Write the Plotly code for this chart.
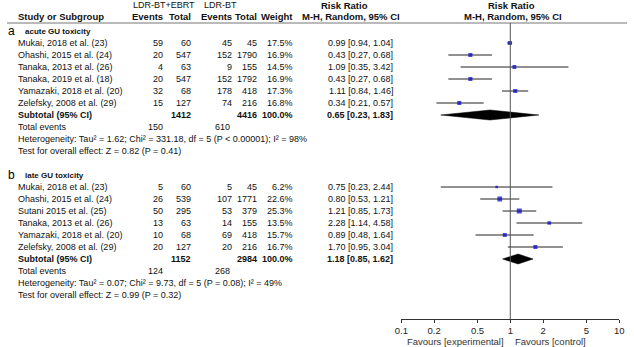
import math
import plotly.graph_objects as go

W, H = 634, 347

# ---------------- data ----------------
acute_studies = ["Mukai, 2018 et al. (23)", "Ohashi, 2015 et al. (24)", "Tanaka, 2013 et al. (26)",
                 "Tanaka, 2019 et al. (18)", "Yamazaki, 2018 et al. (20)", "Zelefsky, 2008 et al. (29)"]
acute_e1 = [59, 20, 4, 20, 32, 15]
acute_n1 = [60, 547, 63, 547, 68, 127]
acute_e2 = [45, 152, 9, 152, 178, 74]
acute_n2 = [45, 1790, 155, 1792, 418, 216]
acute_w = [17.5, 16.9, 14.5, 16.9, 17.3, 16.8]
acute_rr = [0.99, 0.43, 1.09, 0.43, 1.11, 0.34]
acute_lo = [0.94, 0.27, 0.35, 0.27, 0.84, 0.21]
acute_hi = [1.04, 0.68, 3.42, 0.68, 1.46, 0.57]
acute_pooled = [0.65, 0.23, 1.83]
acute_wtotal = 100.0
acute_het = "Heterogeneity: Tau² = 1.62; Chi² = 331.18, df = 5 (P < 0.00001); I² = 98%"
acute_test = "Test for overall effect: Z = 0.82 (P = 0.41)"

late_studies = ["Mukai, 2018 et al. (23)", "Ohashi, 2015 et al. (24)", "Sutani 2015 et al. (25)",
                "Tanaka, 2013 et al. (26)", "Yamazaki, 2018 et al. (20)", "Zelefsky, 2008 et al. (29)"]
late_e1 = [5, 26, 50, 13, 10, 20]
late_n1 = [60, 539, 295, 63, 68, 127]
late_e2 = [5, 107, 53, 14, 69, 20]
late_n2 = [45, 1771, 379, 155, 418, 216]
late_w = [6.2, 22.6, 25.3, 13.5, 15.7, 16.7]
late_rr = [0.75, 0.80, 1.21, 2.28, 0.89, 1.70]
late_lo = [0.23, 0.53, 0.85, 1.14, 0.48, 0.95]
late_hi = [2.44, 1.21, 1.73, 4.58, 1.64, 3.04]
late_pooled = [1.18, 0.85, 1.62]
late_wtotal = 100.0
late_het = "Heterogeneity: Tau² = 0.07; Chi² = 9.73, df = 5 (P = 0.08); I² = 49%"
late_test = "Test for overall effect: Z = 0.99 (P = 0.32)"

group_letters = ["a", "b"]
group_titles = ["acute GU toxicity", "late GU toxicity"]

tick_vals = [0.1, 0.2, 0.5, 1, 2, 5, 10]
tick_text = ["0.1", "0.2", "0.5", "1", "2", "5", "10"]
favours_left = "Favours [experimental]"
favours_right = "Favours [control]"

groups = [
    dict(studies=acute_studies, e1=acute_e1, n1=acute_n1, e2=acute_e2, n2=acute_n2, w=acute_w,
         rr=acute_rr, lo=acute_lo, hi=acute_hi, pooled=acute_pooled, wt=acute_wtotal,
         het=acute_het, test=acute_test),
    dict(studies=late_studies, e1=late_e1, n1=late_n1, e2=late_e2, n2=late_n2, w=late_w,
         rr=late_rr, lo=late_lo, hi=late_hi, pooled=late_pooled, wt=late_wtotal,
         het=late_het, test=late_test),
]

# ---------------- layout constants ----------------
FONT = "Liberation Sans, Arial, sans-serif"
FS = 9
ROW = 12.0
GROUP_LABEL_Y = [31.0, 175.0]
AXIS_Y = 319.0
X_E1, X_N1, X_E2, X_N2, X_W, X_RR = 160, 189, 230, 256, 293, 394

fig = go.Figure()


def txt(x, y, s, anchor="left", bold=False, size=FS, color="#111"):
    fig.add_annotation(x=x / W, xref="paper", y=1 - y / H, yref="paper",
                       text=f"<b>{s}</b>" if bold else s, showarrow=False,
                       xanchor=anchor, yanchor="middle", borderpad=0,
                       font=dict(family=FONT, size=size, color=color))


# headers
txt(160, 5, "LDR-BT+EBRT", "center")
txt(218, 5, "LDR-BT", "center")
txt(344, 5, "Risk Ratio", "center", bold=True, size=9.5)
txt(514, 5, "Risk Ratio", "center", bold=True, size=9.5)
txt(10, 17, "Study or Subgroup", "left", bold=True, size=9.5)
txt(X_E1, 17, "Events", "right", bold=True, size=9.5)
txt(X_N1, 17, "Total", "right", bold=True, size=9.5)
txt(X_E2, 17, "Events", "right", bold=True, size=9.5)
txt(X_N2, 17, "Total", "right", bold=True, size=9.5)
txt(X_W, 17, "Weight", "right", bold=True, size=9.5)
txt(351, 17, "M-H, Random, 95% CI", "center", bold=True, size=9.5)
txt(516, 17, "M-H, Random, 95% CI", "center", bold=True, size=9.5)

fig.add_shape(type="line", xref="paper", yref="y", x0=0, x1=632 / W, y0=23, y1=23,
              line=dict(color="#777", width=1.2))

for gi, g in enumerate(groups):
    gy = GROUP_LABEL_Y[gi]
    txt(0, gy, group_letters[gi], "left", size=12, color="#000")
    txt(17, gy, group_titles[gi], "left", bold=True, size=8)
    ys = [gy + ROW * (i + 1) for i in range(len(g["studies"]))]
    for i, s in enumerate(g["studies"]):
        y = ys[i]
        txt(10, y, s)
        txt(X_E1, y, str(g["e1"][i]), "right")
        txt(X_N1, y, str(g["n1"][i]), "right")
        txt(X_E2, y, str(g["e2"][i]), "right")
        txt(X_N2, y, str(g["n2"][i]), "right")
        txt(X_W, y, f"{g['w'][i]:.1f}%", "right")
        txt(X_RR, y, f"{g['rr'][i]:.2f} [{g['lo'][i]:.2f}, {g['hi'][i]:.2f}]", "right")
    ysub = gy + ROW * (len(g["studies"]) + 1)
    txt(10, ysub, "Subtotal (95% CI)", bold=True)
    txt(X_N1, ysub, str(sum(g["n1"])), "right", bold=True)
    txt(X_N2, ysub, str(sum(g["n2"])), "right", bold=True)
    txt(X_W, ysub, f"{g['wt']:.1f}%", "right", bold=True)
    p = g["pooled"]
    txt(X_RR, ysub, f"{p[0]:.2f} [{p[1]:.2f}, {p[2]:.2f}]", "right", bold=True)
    txt(10, ysub + ROW, "Total events")
    txt(X_E1, ysub + ROW, str(sum(g["e1"])), "right")
    txt(X_E2 - 2, ysub + ROW, str(sum(g["e2"])), "right")
    txt(10, ysub + 2 * ROW, g["het"])
    txt(10, ysub + 3 * ROW, g["test"])

    # CI lines
    lx, ly = [], []
    for i in range(len(ys)):
        lx += [g["lo"][i], g["hi"][i], None]
        ly += [ys[i], ys[i], None]
    fig.add_trace(go.Scatter(x=lx, y=ly, mode="lines", line=dict(color="#222", width=1),
                             hoverinfo="skip", showlegend=False))
    # point estimates
    fig.add_trace(go.Scatter(x=g["rr"], y=ys, mode="markers",
                             marker=dict(symbol="square", color="#0000CC",
                                         size=[math.sqrt(w) for w in g["w"]], line=dict(width=0)),
                             showlegend=False))
    # pooled diamond
    hh = 5.0
    fig.add_trace(go.Scatter(x=[p[1], p[0], p[2], p[0], p[1]],
                             y=[ysub, ysub - hh, ysub, ysub + hh, ysub],
                             mode="lines", fill="toself", fillcolor="#000",
                             line=dict(color="#000", width=0.5), showlegend=False))

# line of no effect
fig.add_shape(type="line", xref="x", yref="y", x0=1, x1=1, y0=23, y1=AXIS_Y,
              line=dict(color="#555", width=1))

# favours labels
txt(508, 341, favours_left, "right", size=9.5, color="#333")
txt(517, 341, favours_right, "left", size=9.5, color="#333")

fig.update_layout(
    width=W, height=H, margin=dict(l=0, r=0, t=0, b=0),
    paper_bgcolor="white", plot_bgcolor="white",
    xaxis=dict(type="log", range=[-1, 1], domain=[402 / W, 624 / W], anchor="y",
               tickvals=tick_vals, ticktext=tick_text, ticks="outside", ticklen=3,
               tickcolor="#333", showline=True, linecolor="#333", linewidth=1,
               showgrid=False, zeroline=False,
               tickfont=dict(family=FONT, size=9.5, color="#222")),
    yaxis=dict(range=[AXIS_Y, 0], domain=[1 - AXIS_Y / H, 1], visible=False,
               showgrid=False, zeroline=False),
    showlegend=False,
)

fig.write_html("out.html", config={"displayModeBar": False},
               post_script="document.body.style.margin='0';")
